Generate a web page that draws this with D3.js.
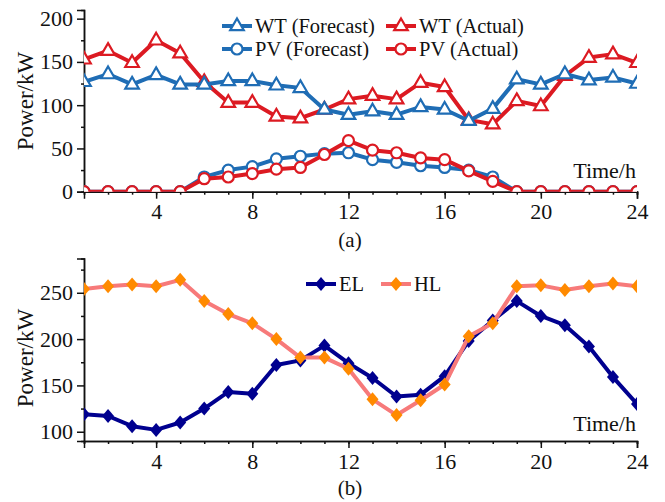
<!DOCTYPE html>
<html>
<head>
<meta charset="utf-8">
<script src="https://cdn.jsdelivr.net/npm/d3@7"></script>
<style>
body { margin: 0; background: #fff; }
</style>
</head>
<body>
<svg id="chart" width="665" height="502"></svg>
<script>
var hours = [1,2,3,4,5,6,7,8,9,10,11,12,13,14,15,16,17,18,19,20,21,22,23,24];
var xTicks = [4,8,12,16,20,24];

var wtForecast = [127,136,124,135,124,124,128,128,123,120,95,89,93,89,98,95,82,96,130,124,136,129,132,125];
var wtActual   = [153,163,149,175,160,127,103,103,87,85,95,107,111,107,126,121,83,78,105,99,134,155,159,149];
var pvForecast = [0,0,0,0,0,17,25,29,38,41,44,45,37,34,30,28,25,17,0,0,0,0,0,0];
var pvActual   = [0,0,0,0,0,15,17,21,26,28,43,59,48,45,39,37,24,12,0,0,0,0,0,0];

var elLoad = [119,117,106,102,110,125,143,141,172,177,193,174,158,138,140,160,198,220,241,225,215,192,159,130];
var hlLoad = [254,257,259,257,264,241,227,217,200,180,180,168,135,118,134,151,203,217,257,258,253,257,260,257];

var topTicks = [0,50,100,150,200];
var topMinor = [25,75,125,175];
var botTicks = [100,150,200,250];
var botMinor = [125,175,225,275];

var blue = "#1f6db5";
var red = "#dc1a22";
var navy = "#00008f";
var salmon = "#f77a7a";
var orange = "#ff8a00";
var serif = "'Liberation Serif'";

var svg = d3.select("#chart");
var x = d3.scaleLinear().domain([1, 24]).range([84, 637]);

var triPath = "M0,-7.5L6.8,4.2L-6.8,4.2Z";
var diaPath = "M0,-7L6,0L0,7L-6,0Z";

var addText = function (g, size, label) {
  return g.append("text")
    .style("font-family", serif)
    .style("font-size", size + "px")
    .attr("fill", "#111")
    .text(label);
};

var drawFrame = function (g, y, ticks, minor, id) {
  g.append("clipPath").attr("id", id)
    .append("rect")
    .attr("x", x.range()[0]).attr("y", y.range()[1])
    .attr("width", x.range()[1] - x.range()[0])
    .attr("height", y.range()[0] - y.range()[1]);

  var base = y.range()[0];
  g.append("g").attr("transform", "translate(0," + base + ")")
    .call(d3.axisBottom(x).tickValues(hours).tickSize(3).tickFormat(""));
  g.append("g").attr("transform", "translate(0," + base + ")")
    .call(d3.axisBottom(x).tickValues(xTicks).tickSize(7).tickPadding(5));
  g.append("g").attr("transform", "translate(" + x.range()[0] + ",0)")
    .call(d3.axisLeft(y).tickValues(minor).tickSize(3).tickFormat(""));
  g.append("g").attr("transform", "translate(" + x.range()[0] + ",0)")
    .call(d3.axisLeft(y).tickValues(ticks).tickSize(7).tickPadding(4));

  g.selectAll(".domain, .tick line").attr("stroke", "#111").attr("stroke-width", 1.5);
  g.selectAll(".tick text")
    .style("font-family", serif)
    .style("font-size", "22px")
    .attr("fill", "#111");
};

var drawSeries = function (g, y, vals, color, shape, fill, clip) {
  var line = d3.line().x(function (d, i) { return x(hours[i]); }).y(function (d) { return y(d); });
  var s = g.append("g").attr("clip-path", "url(#" + clip + ")");
  s.append("path").datum(vals)
    .attr("d", line)
    .attr("fill", "none")
    .attr("stroke", color)
    .attr("stroke-width", 4)
    .attr("stroke-linejoin", "round");
  var pts = s.selectAll(".pt").data(vals).enter();
  if (shape == "circle") {
    pts.append("circle")
      .attr("cx", function (d, i) { return x(hours[i]); })
      .attr("cy", function (d) { return y(d); })
      .attr("r", 5.5)
      .attr("fill", "#fff").attr("stroke", color).attr("stroke-width", 2.2);
  } else {
    pts.append("path")
      .attr("d", shape == "tri" ? triPath : diaPath)
      .attr("transform", function (d, i) { return "translate(" + x(hours[i]) + "," + y(d) + ")"; })
      .attr("fill", fill).attr("stroke", fill == "#fff" ? color : "none").attr("stroke-width", 2.2);
  }
};

var legendItem = function (g, lx, ly, color, shape, fill, label) {
  g.append("line")
    .attr("x1", lx - 15).attr("x2", lx + 15).attr("y1", ly).attr("y2", ly)
    .attr("stroke", color).attr("stroke-width", 4);
  if (shape == "circle") {
    g.append("circle").attr("cx", lx).attr("cy", ly).attr("r", 5.5)
      .attr("fill", "#fff").attr("stroke", color).attr("stroke-width", 2.2);
  } else {
    g.append("path").attr("d", shape == "tri" ? triPath : diaPath)
      .attr("transform", "translate(" + lx + "," + ly + ")")
      .attr("fill", fill).attr("stroke", fill == "#fff" ? color : "none").attr("stroke-width", 2.2);
  }
  addText(g, 20.5, label).attr("x", lx + 18).attr("y", ly + 7);
};

// (a) wind + pv
var yTop = d3.scaleLinear().domain([0, 210]).range([191.7, 10]);
var gTop = svg.append("g");
drawFrame(gTop, yTop, topTicks, topMinor, "clipTop");
drawSeries(gTop, yTop, wtActual, red, "tri", "#fff", "clipTop");
drawSeries(gTop, yTop, wtForecast, blue, "tri", "#fff", "clipTop");
drawSeries(gTop, yTop, pvForecast, blue, "circle", "#fff", "clipTop");
drawSeries(gTop, yTop, pvActual, red, "circle", "#fff", "clipTop");

legendItem(gTop, 237, 26, blue, "tri", "#fff", "WT (Forecast)");
legendItem(gTop, 401, 26, red, "tri", "#fff", "WT (Actual)");
legendItem(gTop, 237, 49, blue, "circle", "#fff", "PV (Forecast)");
legendItem(gTop, 401, 49, red, "circle", "#fff", "PV (Actual)");

addText(gTop, 22, "Time/h").attr("x", 636).attr("y", 178).attr("text-anchor", "end");
addText(gTop, 23, "Power/kW").attr("transform", "translate(33,101) rotate(-90)").attr("text-anchor", "middle");
addText(gTop, 21, "(a)").attr("x", 350).attr("y", 247).attr("text-anchor", "middle");

// (b) electric + heat load
var yBot = d3.scaleLinear().domain([90, 287]).range([441, 258.5]);
var gBot = svg.append("g");
drawFrame(gBot, yBot, botTicks, botMinor, "clipBot");
drawSeries(gBot, yBot, elLoad, navy, "dia", navy, "clipBot");
drawSeries(gBot, yBot, hlLoad, salmon, "dia", orange, "clipBot");

legendItem(gBot, 321, 284, navy, "dia", navy, "EL");
legendItem(gBot, 396, 284, salmon, "dia", orange, "HL");

addText(gBot, 22, "Time/h").attr("x", 636).attr("y", 431).attr("text-anchor", "end");
addText(gBot, 23, "Power/kW").attr("transform", "translate(33,358) rotate(-90)").attr("text-anchor", "middle");
addText(gBot, 21, "(b)").attr("x", 350).attr("y", 495).attr("text-anchor", "middle");
</script>
</body>
</html>
